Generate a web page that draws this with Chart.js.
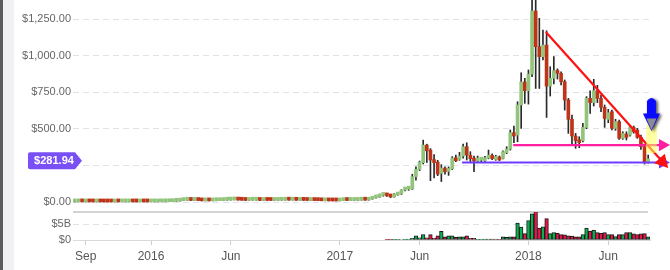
<!DOCTYPE html>
<html>
<head>
<meta charset="utf-8">
<title>ETH weekly</title>
<script src="https://cdn.jsdelivr.net/npm/chart.js@4/dist/chart.umd.min.js"></script>
<style>
  html, body { margin: 0; padding: 0; background: #fff; }
  #wrap { position: relative; width: 670px; height: 270px; overflow: hidden; }
  #edge { position: absolute; left: 0; top: 0; width: 3px; height: 270px; background: #5c5c5c; }
  #edge2 { position: absolute; left: 3px; top: 0; width: 11px; height: 270px; background: #f1f1f4; }
  canvas { position: absolute; left: 0; top: 0; }
</style>
</head>
<body>
<div id="wrap">
  <div id="edge"></div>
  <div id="edge2"></div>
  <canvas id="chart" width="670" height="270"></canvas>
</div>
<script>
// weekly candles, first week starts 2015-08-10
const startDate = Date.UTC(2015, 7, 10);

const opens = [
  0.7, 1.2, 1.4, 1.15, 1.3, 0.9, 0.85, 0.9, 0.7, 0.62,
  0.5, 0.48, 1.0, 0.9, 0.93, 0.95, 0.96, 0.84, 0.82, 0.88,
  0.85, 0.84, 0.95, 0.96, 1.26, 1.56, 2.4, 2.55, 5.2, 6.3,
  9.9, 12.5, 12.9, 10.8, 11.4, 10.5, 8.1, 8.6, 7.9, 8.9,
  9.3, 9.9, 12.8, 13.5, 14.4, 20.0, 13.5, 12.4, 11.0, 12.5,
  12.8, 13.0, 10.9, 11.2, 11.0, 10.7, 11.5, 12.0, 12.4, 13.2,
  13.0, 13.2, 12.0, 12.1, 11.5, 10.9, 11.0, 10.2, 9.7, 8.6,
  8.7, 7.9, 7.6, 7.5, 10.2, 10.7, 10.5, 10.8, 11.3, 12.8,
  13.2, 12.6, 19.6, 28.4, 33, 45, 52, 42, 35, 48,
  56, 82, 88, 90, 173, 223, 269, 389, 355, 287,
  273, 196, 232, 209, 228, 300, 291, 314, 378, 319,
  298, 280, 286, 282, 300, 319, 291, 305, 298, 337,
  362, 474, 458, 663, 820, 760, 874, 1305, 1061, 993,
  1072, 792, 845, 897, 879, 822, 697, 565, 451, 423,
  419, 510, 708, 679, 760, 708, 647, 565, 617, 503,
  549, 435, 464, 458, 510, 492, 442, 378, 275
];
const highs = [
  2.8, 1.5, 1.5, 1.4, 1.3, 1.0, 0.95, 0.92, 0.72, 0.65,
  0.58, 1.1, 1.05, 0.95, 0.98, 0.97, 0.98, 0.86, 0.9, 0.9,
  0.95, 0.98, 1.3, 1.4, 1.7, 2.6, 2.8, 6.0, 6.5, 10.0,
  13.0, 15.0, 13.0, 12.0, 11.6, 10.6, 9.0, 8.8, 9.1, 9.6,
  10.2, 13.5, 14.0, 14.8, 21.5, 20.5, 14.5, 12.6, 12.8, 14.5,
  13.1, 13.0, 11.4, 11.3, 11.1, 11.6, 12.2, 12.6, 13.4, 13.3,
  13.4, 13.2, 12.3, 12.2, 11.6, 11.2, 11.1, 10.4, 9.9, 8.9,
  8.8, 8.0, 8.4, 10.5, 11.0, 11.3, 11.0, 11.6, 13.0, 13.5,
  16.0, 20.5, 30.0, 40.0, 55.0, 55.0, 53.5, 48.0, 58.0, 62.0,
  84, 100, 95, 190, 240, 280, 423, 395, 365, 325,
  285, 255, 240, 240, 310, 320, 340, 396, 405, 344,
  314, 314, 300, 312, 355, 330, 320, 315, 350, 378,
  492, 519, 685, 883, 845, 902, 1420, 1410, 1255, 1175,
  1170, 924, 993, 910, 890, 834, 708, 594, 469, 446,
  537, 720, 760, 838, 797, 731, 663, 633, 628, 565,
  560, 480, 480, 519, 519, 503, 458, 396, 321
];
const lows = [
  0.4, 1.1, 1.1, 1.1, 0.85, 0.8, 0.75, 0.6, 0.55, 0.45,
  0.45, 0.48, 0.85, 0.88, 0.88, 0.85, 0.82, 0.8, 0.8, 0.84,
  0.83, 0.8, 0.9, 0.95, 1.2, 1.5, 2.2, 2.5, 4.2, 6.0,
  9.5, 11.5, 10.0, 10.5, 10.0, 7.5, 7.5, 7.2, 7.8, 8.7,
  9.1, 9.8, 12.0, 13.0, 14.0, 12.0, 11.8, 10.0, 10.8, 12.2,
  11.8, 10.2, 10.7, 10.8, 10.5, 10.6, 11.4, 11.8, 12.3, 12.9,
  12.8, 11.8, 11.7, 11.3, 10.6, 10.4, 9.8, 9.4, 8.5, 8.3,
  7.8, 7.2, 7.0, 7.4, 9.7, 10.3, 10.4, 10.6, 11.2, 12.5,
  12.0, 12.5, 19.0, 27.0, 32.0, 40.0, 38.0, 30.0, 33.0, 46.0,
  52, 76, 80, 86, 150, 215, 260, 270, 146, 165,
  180, 140, 190, 182, 222, 275, 285, 300, 287, 276,
  207, 270, 272, 276, 295, 290, 285, 283, 294, 330,
  355, 405, 412, 503, 674, 669, 856, 776, 776, 970,
  578, 724, 806, 840, 800, 628, 469, 389, 367, 371,
  410, 501, 606, 656, 679, 617, 510, 542, 492, 490,
  428, 428, 424, 450, 470, 435, 360, 260, 265
];
const closes = [
  1.2, 1.4, 1.15, 1.3, 0.9, 0.85, 0.9, 0.7, 0.62, 0.5,
  0.48, 1.0, 0.9, 0.93, 0.95, 0.96, 0.84, 0.82, 0.88, 0.85,
  0.84, 0.95, 0.96, 1.26, 1.56, 2.4, 2.55, 5.2, 6.3, 9.9,
  12.5, 12.9, 10.8, 11.4, 10.5, 8.1, 8.6, 7.9, 8.9, 9.3,
  9.9, 12.8, 13.5, 14.4, 20.0, 13.5, 12.4, 11.0, 12.5, 12.8,
  13.0, 10.9, 11.2, 11.0, 10.7, 11.5, 12.0, 12.4, 13.2, 13.0,
  13.2, 12.0, 12.1, 11.5, 10.9, 11.0, 10.2, 9.7, 8.6, 8.7,
  7.9, 7.6, 7.5, 10.2, 10.7, 10.5, 10.8, 11.3, 12.8, 13.2,
  12.6, 19.6, 28.4, 33, 45, 52, 42, 35, 50, 56,
  82, 88, 90, 173, 223, 273, 389, 350, 287, 269,
  191, 232, 207, 228, 300, 282, 314, 378, 321, 296,
  280, 292, 292, 303, 310, 296, 310, 287, 344, 362,
  474, 451, 663, 820, 760, 874, 1305, 1061, 993, 1072,
  792, 845, 897, 879, 822, 697, 565, 451, 419, 405,
  510, 708, 679, 760, 708, 647, 571, 610, 503, 549,
  435, 469, 442, 510, 480, 442, 378, 275, 281.94
];
// weekly volume, billions of USD
const volumes = [
  0, 0, 0, 0, 0, 0, 0, 0, 0, 0,
  0, 0, 0, 0, 0, 0, 0, 0, 0, 0,
  0, 0, 0, 0, 0, 0, 0, 0, 0, 0,
  0, 0, 0, 0, 0, 0, 0, 0, 0, 0,
  0, 0, 0, 0, 0, 0, 0, 0, 0, 0,
  0, 0, 0, 0, 0, 0, 0, 0, 0, 0,
  0, 0, 0, 0, 0, 0, 0, 0, 0, 0,
  0, 0, 0, 0, 0, 0, 0, 0, 0, 0,
  0, 0, 0, 0, 0, 0, 0.08, 0.05, 0.05, 0.1,
  0.15, 0.2, 0.25, 0.5, 1.3, 0.7, 1.7, 0.7, 1.7, 0.5,
  1.3, 2.7, 1.0, 1.3, 1.3, 0.8, 1.0, 1.0, 1.3, 0.5,
  0.5, 0.2, 0.2, 0.3, 0.3, 0.3, 0.3, 0.2, 1.0, 0.8,
  1.0, 1.0, 5.3, 4.0, 2.0, 6.1, 8.2, 9.0, 3.7, 4.1,
  6.7, 2.0, 2.3, 2.1, 1.7, 1.6, 1.3, 1.2, 1.0, 1.0,
  1.7, 3.7, 2.8, 3.1, 2.3, 2.1, 2.3, 1.7, 1.7, 1.1,
  1.7, 1.7, 2.3, 2.3, 1.9, 1.7, 1.9, 2.0, 1.0
];

const tickWeeks = [3, 21, 43, 73, 95, 125, 147];
const tickLabels = ['Sep', '2016', 'Jun', '2017', 'Jun', '2018', 'Jun'];
const priceTicks = [0, 250, 500, 750, 1000, 1250];
const volumeTicks = [0, 5];
const lastPrice = 281.94;

// drawings on top of the chart, in (week index, price) units
const trendLines = [
  { from: [106.7, 270], to: [164.0, 270], color: '#6e3cff', head: 11 },
  { from: [120.8, 389], to: [164.0, 389], color: '#ff1fa0', head: 11 },
  { from: [129.8, 1161], to: [163.5, 232], color: '#ff1010', head: 13 }
];
const highlight = { x: [157.4, 160.4], y: [525, 335] };
const pointer = { x: 158.9, top: 717, neck: 604, tip: 485 };

const labels = opens.map((_, i) => new Date(startDate + i * 7 * 864e5).toISOString().slice(0, 10));
const up = opens.map((o, i) => closes[i] >= o);

const bodyGreen = '#92c47b';
const bodyRed = '#bd3418';
const volGreen = '#0bb04e';
const volRed = '#e8154b';

Chart.defaults.font.family = "'Liberation Sans', Arial, sans-serif";

function arrowLine(ctx, x1, y1, x2, y2, color, head) {
  const a = Math.atan2(y2 - y1, x2 - x1);
  const c = Math.cos(a), s = Math.sin(a);
  ctx.strokeStyle = color;
  ctx.lineWidth = 2.2;
  ctx.beginPath();
  ctx.moveTo(x1, y1);
  ctx.lineTo(x2 - c * head * 0.7, y2 - s * head * 0.7);
  ctx.stroke();
  ctx.fillStyle = color;
  ctx.beginPath();
  ctx.moveTo(x2, y2);
  ctx.lineTo(x2 - head * c + head * 0.55 * s, y2 - head * s - head * 0.55 * c);
  ctx.lineTo(x2 - head * c - head * 0.55 * s, y2 - head * s + head * 0.55 * c);
  ctx.closePath();
  ctx.fill();
}

const overlay = {
  id: 'overlay',
  beforeDatasetsDraw(chart) {
    const { ctx, chartArea, scales } = chart;
    ctx.save();
    ctx.strokeStyle = '#c4c4c4';
    ctx.lineWidth = 1.5;
    ctx.beginPath();
    ctx.moveTo(chartArea.left, scales.yv.top);
    ctx.lineTo(chartArea.right - 2, scales.yv.top);
    ctx.stroke();
    ctx.restore();
  },
  afterDatasetsDraw(chart) {
    const { ctx, scales } = chart;
    const px = v => scales.x.getPixelForValue(v);
    const py = v => scales.y.getPixelForValue(v);
    ctx.save();
    trendLines.forEach(t => {
      arrowLine(ctx, px(t.from[0]), py(t.from[1]), px(t.to[0]), py(t.to[1]), t.color, t.head);
    });
    // yellow box
    ctx.fillStyle = 'rgba(255, 255, 90, 0.55)';
    const hx = px(highlight.x[0]), hy = py(highlight.y[0]);
    ctx.fillRect(hx, hy, px(highlight.x[1]) - hx, py(highlight.y[1]) - hy);
    // blue pointer arrow
    const cx = px(pointer.x), yt = py(pointer.top), yn = py(pointer.neck), yp = py(pointer.tip);
    ctx.shadowColor = 'rgba(0,0,0,0.65)';
    ctx.shadowBlur = 3;
    ctx.shadowOffsetX = 2;
    ctx.shadowOffsetY = 1;
    ctx.fillStyle = '#0a0aff';
    ctx.beginPath();
    ctx.moveTo(cx - 4.5, yn);
    ctx.lineTo(cx - 4.5, yt + 4);
    ctx.quadraticCurveTo(cx, yt - 2, cx + 4.5, yt + 4);
    ctx.lineTo(cx + 4.5, yn);
    ctx.lineTo(cx + 8.5, yn);
    ctx.lineTo(cx, yp);
    ctx.lineTo(cx - 8.5, yn);
    ctx.closePath();
    ctx.fill();
    ctx.shadowColor = 'transparent';
    ctx.fillStyle = '#8c8c8c';
    ctx.beginPath();
    ctx.moveTo(cx - 5, yn + 5);
    ctx.lineTo(cx + 5, yn + 5);
    ctx.lineTo(cx, yp - 1);
    ctx.closePath();
    ctx.fill();
    ctx.restore();
  },
  afterDraw(chart) {
    const { ctx, chartArea, scales } = chart;
    const y = scales.y.getPixelForValue(lastPrice);
    const r = chartArea.left + 9, l = chartArea.left - 45;
    ctx.save();
    ctx.fillStyle = '#7a50f6';
    ctx.beginPath();
    ctx.moveTo(l + 2, y - 8.5);
    ctx.lineTo(r - 7, y - 8.5);
    ctx.lineTo(r, y);
    ctx.lineTo(r - 7, y + 8.5);
    ctx.lineTo(l + 2, y + 8.5);
    ctx.quadraticCurveTo(l, y + 8.5, l, y + 6.5);
    ctx.lineTo(l, y - 6.5);
    ctx.quadraticCurveTo(l, y - 8.5, l + 2, y - 8.5);
    ctx.closePath();
    ctx.fill();
    ctx.fillStyle = '#fff';
    ctx.font = "bold 11px 'Liberation Sans', Arial, sans-serif";
    ctx.textAlign = 'center';
    ctx.textBaseline = 'middle';
    ctx.fillText('$' + lastPrice.toFixed(2), l + 26, y + 0.5);
    ctx.restore();
  }
};

function noPad(s) {
  s.paddingTop = 0; s.paddingBottom = 0; s.paddingLeft = 0; s.paddingRight = 0;
}

new Chart(document.getElementById('chart').getContext('2d'), {
  type: 'bar',
  data: {
    labels: labels,
    datasets: [
      {
        label: 'Body',
        data: opens.map((o, i) => [o, closes[i]]),
        backgroundColor: up.map(u => u ? bodyGreen : bodyRed),
        barThickness: 3,
        minBarLength: 3,
        grouped: false,
        yAxisID: 'y',
        order: 0
      },
      {
        label: 'Wick',
        data: lows.map((l, i) => [l, highs[i]]),
        backgroundColor: '#2a2a2a',
        barThickness: 1,
        grouped: false,
        yAxisID: 'y',
        order: 1
      },
      {
        label: 'Volume',
        data: volumes.map(v => v * 1e9),
        backgroundColor: up.map(u => u ? volGreen : volRed),
        borderColor: '#1a1a1a',
        borderWidth: 1,
        borderSkipped: false,
        barPercentage: 1,
        categoryPercentage: 1,
        grouped: false,
        yAxisID: 'yv',
        order: 2
      }
    ]
  },
  options: {
    responsive: false,
    animation: false,
    devicePixelRatio: 1,
    layout: { padding: { left: 0, right: 20, top: 0, bottom: 0 } },
    plugins: { legend: { display: false }, tooltip: { enabled: false } },
    scales: {
      x: {
        type: 'category',
        offset: true,
        grid: { display: true, offset: false, drawOnChartArea: false, drawTicks: true, tickLength: 5, tickColor: '#cfcfcf' },
        border: { display: true, color: '#dadada' },
        afterBuildTicks: s => { s.ticks = tickWeeks.map(v => ({ value: v })); },
        ticks: {
          autoSkip: false,
          maxRotation: 0,
          padding: 4,
          color: '#555',
          font: { size: 12 },
          callback: v => tickLabels[tickWeeks.indexOf(v)]
        },
        afterFit: s => { s.height = 30; noPad(s); }
      },
      yv: {
        type: 'linear',
        position: 'left',
        stack: 'panes',
        stackWeight: 28,
        min: 0,
        max: 8.75e9,
        grid: { color: '#e2e2ea', drawTicks: false },
        border: { display: false, dash: [6, 4] },
        afterBuildTicks: s => { s.ticks = volumeTicks.map(v => ({ value: v * 1e9 })); },
        ticks: {
          autoSkip: false,
          padding: 2,
          color: '#666',
          font: { size: 11 },
          callback: v => v === 0 ? '$0' : '$' + (v / 1e9) + 'B'
        },
        afterFit: s => { s.width = 73; noPad(s); }
      },
      y: {
        type: 'linear',
        position: 'left',
        stack: 'panes',
        stackWeight: 212,
        min: -68,
        max: 1380,
        grid: { color: '#e2e2ea', drawTicks: false },
        border: { display: false, dash: [6, 4] },
        afterBuildTicks: s => { s.ticks = priceTicks.map(v => ({ value: v })); },
        ticks: {
          autoSkip: false,
          padding: 2,
          color: '#666',
          font: { size: 11 },
          callback: v => '$' + v.toLocaleString('en-US', { minimumFractionDigits: 2, maximumFractionDigits: 2 })
        },
        afterFit: s => { s.width = 73; noPad(s); }
      }
    }
  },
  plugins: [overlay]
});
</script>
</body>
</html>
